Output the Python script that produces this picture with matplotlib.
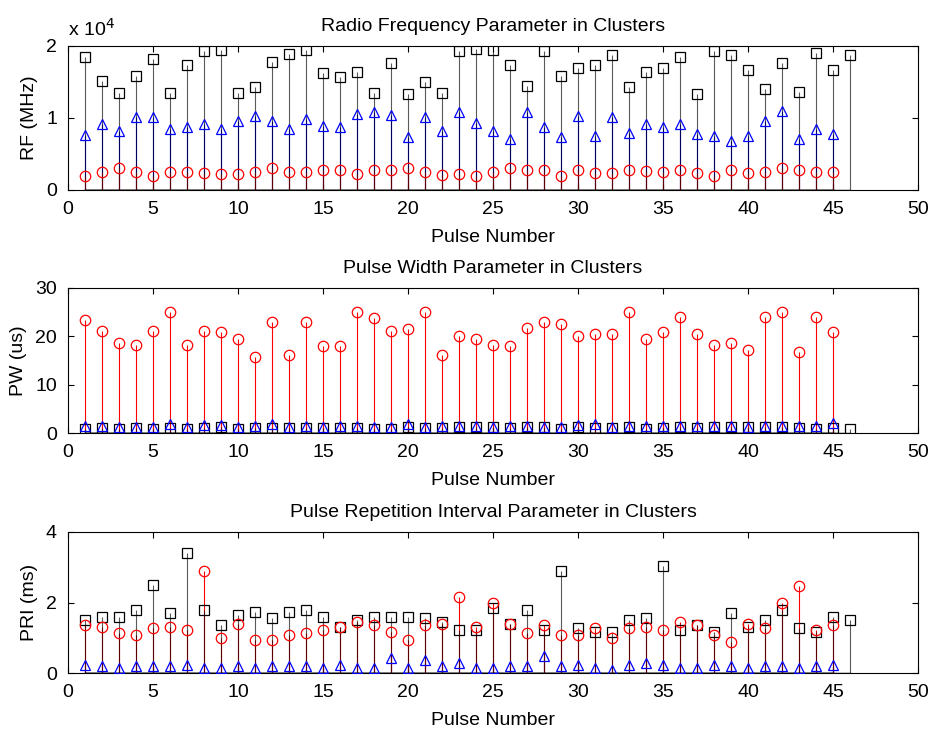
import numpy as np
import matplotlib.pyplot as plt

plt.rcParams["font.family"] = ["Liberation Sans", "DejaVu Sans"]

# pulse numbers
pulse_black = list(range(1, 47))
pulse_other = list(range(1, 46))

# RF parameter (MHz)
rf_black = [18500, 15200, 13500, 15900, 18200, 13500, 17400, 19300, 19400, 13500,
            14300, 17800, 18900, 19500, 16200, 15700, 16400, 13500, 17600, 13300,
            15000, 13500, 19300, 19600, 19500, 17400, 14500, 19300, 15900, 16900,
            17400, 18800, 14300, 16400, 16900, 18500, 13400, 19300, 18800, 16600,
            14000, 17600, 13600, 19000, 16600, 18800]
rf_blue = [7700, 9100, 8200, 10100, 10100, 8500, 8700, 9100, 8500, 9600,
           10300, 9600, 8500, 9800, 8900, 8700, 10500, 10800, 10400, 7300,
           10100, 8200, 10800, 9300, 8200, 7100, 10800, 8700, 7300, 10300,
           7500, 10100, 7900, 9100, 8700, 9100, 7800, 7500, 6800, 7500,
           9600, 11000, 7100, 8500, 7800]
rf_red = [2000, 2500, 3000, 2500, 2000, 2500, 2500, 2300, 2200, 2200,
          2500, 3000, 2500, 2500, 2800, 2800, 2200, 2800, 2800, 3000,
          2500, 2100, 2200, 2000, 2500, 3000, 2800, 2800, 2000, 2800,
          2300, 2300, 2800, 2700, 2500, 2800, 2300, 2000, 2800, 2300,
          2500, 3000, 2800, 2500, 2500]

# PW parameter (us)
pw_black = [0.9, 1.1, 0.9, 1.1, 0.9, 1.0, 0.9, 1.1, 1.2, 0.9,
            1.0, 1.0, 1.1, 1.0, 1.1, 1.1, 1.1, 0.9, 0.9, 1.2,
            1.1, 1.1, 1.2, 1.2, 1.2, 1.0, 1.2, 1.2, 0.9, 1.2,
            1.1, 1.0, 1.2, 0.9, 1.1, 1.2, 1.1, 1.2, 1.2, 1.2,
            1.2, 1.2, 1.0, 0.9, 1.1, 0.9]
pw_blue = [1.4, 1.5, 1.3, 1.3, 1.2, 1.8, 1.2, 1.6, 1.7, 1.3,
           1.4, 1.8, 1.3, 1.5, 1.3, 1.4, 1.4, 1.2, 1.2, 1.8,
           1.3, 1.4, 1.4, 1.4, 1.3, 1.4, 1.4, 1.2, 1.3, 1.6,
           1.8, 1.2, 1.5, 1.4, 1.5, 1.5, 1.4, 1.5, 1.4, 1.3,
           1.5, 1.5, 1.4, 1.4, 2.0]
pw_red = [23.3, 21.1, 18.7, 18.3, 21.1, 25.1, 18.3, 21.1, 20.8, 19.4,
          15.8, 23.0, 16.1, 23.0, 18.0, 18.0, 25.1, 23.7, 21.1, 21.5,
          25.1, 16.1, 20.1, 19.4, 18.3, 18.0, 21.8, 22.9, 22.5, 20.1,
          20.4, 20.4, 25.1, 19.4, 20.8, 24.0, 20.4, 18.3, 18.7, 17.2,
          24.0, 25.1, 16.8, 24.0, 20.8]

# PRI parameter (ms)
pri_black = [1.51, 1.60, 1.60, 1.79, 2.51, 1.69, 3.40, 1.79, 1.36, 1.65,
             1.74, 1.55, 1.74, 1.79, 1.60, 1.31, 1.51, 1.60, 1.60, 1.60,
             1.55, 1.45, 1.22, 1.22, 1.84, 1.40, 1.79, 1.22, 2.88, 1.27,
             1.17, 1.17, 1.51, 1.55, 3.03, 1.22, 1.36, 1.17, 1.69, 1.31,
             1.51, 1.79, 1.27, 1.17, 1.60, 1.51]
pri_blue = [0.23, 0.19, 0.14, 0.19, 0.19, 0.19, 0.23, 0.14, 0.14, 0.19,
            0.14, 0.19, 0.19, 0.19, 0.14, 0.23, 0.14, 0.14, 0.42, 0.14,
            0.37, 0.19, 0.28, 0.14, 0.14, 0.19, 0.19, 0.47, 0.19, 0.23,
            0.14, 0.09, 0.23, 0.28, 0.23, 0.14, 0.14, 0.23, 0.19, 0.14,
            0.19, 0.19, 0.14, 0.19, 0.23]
pri_red = [1.36, 1.31, 1.13, 1.08, 1.27, 1.31, 1.22, 2.88, 0.99, 1.40,
           0.94, 0.94, 1.08, 1.13, 1.22, 1.31, 1.45, 1.36, 1.17, 0.94,
           1.36, 1.40, 2.17, 1.31, 1.98, 1.40, 1.13, 1.36, 1.08, 1.08,
           1.27, 0.99, 1.27, 1.31, 1.22, 1.45, 1.36, 1.08, 0.88, 1.40,
           1.27, 1.98, 2.46, 1.22, 1.36]

panels = [
    ("Radio Frequency Parameter in Clusters", "RF (MHz)", 1e4, [0, 1, 2],
     rf_black, rf_blue, rf_red),
    ("Pulse Width Parameter in Clusters", "PW (us)", 1, [0, 10, 20, 30],
     pw_black, pw_blue, pw_red),
    ("Pulse Repetition Interval Parameter in Clusters", "PRI (ms)", 1, [0, 2, 4],
     pri_black, pri_blue, pri_red),
]

fig = plt.figure(figsize=(9.32, 7.31), dpi=100)
W, H = 932, 731
boxes = [(46, 190), (288, 433), (532, 673)]
left, right = 68, 918

for (title, ylabel, scale, yticks, blk, blu, red), (top, bot) in zip(panels, boxes):
    ax = fig.add_axes([left / W, 1 - bot / H, (right - left) / W, (bot - top) / H])
    series = [(pulse_black, blk, "k", "s"), (pulse_other, blu, "b", "^"), (pulse_other, red, "r", "o")]
    for xs, ys, c, m in series:
        vals = np.array(ys) / scale
        ml, sl, bl = ax.stem(xs, vals, linefmt=c + "-", markerfmt=c + m, basefmt="k-")
        plt.setp(sl, linewidth=0.8)
        if c == "k":
            # black stems sit over the coloured ones, slightly see-through
            plt.setp(sl, alpha=0.65, zorder=2.2)
        plt.setp(ml, markerfacecolor="none", markeredgewidth=0.9, markersize=7.5, zorder=3)
        plt.setp(bl, linewidth=1.0)
    ax.set_xlim(0, 50)
    ax.set_ylim(yticks[0], yticks[-1])
    ax.set_xticks(range(0, 51, 5))
    ax.set_yticks(yticks)
    ax.tick_params(direction="in", length=4, top=True, right=True, labelsize=14, pad=8)
    for s in ax.spines.values():
        s.set_linewidth(0.8)
    ax.set_title(title, fontsize=14, pad=11)
    ax.set_xlabel("Pulse Number", fontsize=14, labelpad=8)
    ax.set_ylabel(ylabel, fontsize=14, labelpad=6)
    if scale != 1:
        ax.text(0.0, 1.07, r"x 10$^4$", transform=ax.transAxes, fontsize=14, ha="left", va="baseline")

fig.savefig("out.png", dpi=100)
